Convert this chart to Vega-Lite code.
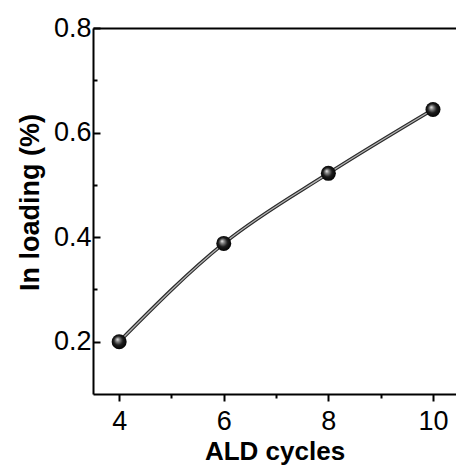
{
  "$schema": "https://vega.github.io/schema/vega-lite/v6.json",
  "width": 363,
  "height": 366,
  "autosize": {"type": "none"},
  "padding": {"left": 93, "top": 28, "right": 0, "bottom": 74},
  "background": "white",
  "config": {
    "view": {"stroke": null},
    "font": "Liberation Sans",
    "axis": {
      "grid": false,
      "domainColor": "black",
      "domainWidth": 2,
      "tickColor": "black",
      "tickWidth": 2,
      "labelFont": "Liberation Sans",
      "labelFontSize": 27,
      "labelColor": "black",
      "titleFont": "Liberation Sans",
      "titleFontSize": 27,
      "titleFontWeight": "bold",
      "titleColor": "black"
    }
  },
  "data": {
    "values": [
      {"cycles": 4, "loading": 0.2},
      {"cycles": 6, "loading": 0.388},
      {"cycles": 8, "loading": 0.522},
      {"cycles": 10, "loading": 0.644}
    ]
  },
  "encoding": {
    "y": {
      "field": "loading",
      "type": "quantitative",
      "scale": {"domain": [0.1, 0.8], "nice": false, "zero": false},
      "axis": {
        "values": [0.2, 0.3, 0.4, 0.5, 0.6, 0.7, 0.8],
        "labelExpr": "round(datum.value * 10) % 2 == 0 ? format(datum.value, '.1f') : ''",
        "tickSize": {"condition": {"test": "round(datum.value * 10) % 2 == 0", "value": -7}, "value": -4},
        "labelPadding": 9,
        "title": "In loading (%)",
        "titleAngle": 270,
        "titleAlign": "center",
        "titleBaseline": "middle",
        "titleX": -63,
        "titleY": 174
      }
    }
  },
  "resolve": {"axis": {"x": "independent"}},
  "layer": [
    {
      "mark": {"type": "line", "interpolate": "monotone", "color": "#2a2a2a", "strokeWidth": 3.6},
      "encoding": {
        "x": {
          "field": "cycles",
          "type": "quantitative",
          "scale": {"domain": [3.5, 10.44], "nice": false, "zero": false},
          "axis": {
            "orient": "bottom",
            "values": [4, 5, 6, 7, 8, 9, 10],
            "labelExpr": "datum.value % 2 == 0 ? format(datum.value, 'd') : ''",
            "tickSize": {"condition": {"test": "datum.value % 2 == 0", "value": 7}, "value": 4},
            "labelPadding": 7,
            "title": "ALD cycles",
            "titleFontSize": 26,
            "titleBaseline": "alphabetic",
            "titleY": 65
          }
        }
      }
    },
    {
      "mark": {"type": "line", "interpolate": "monotone", "color": "#b4b4b4", "strokeWidth": 1.3},
      "encoding": {
        "x": {
          "field": "cycles",
          "type": "quantitative",
          "scale": {"domain": [3.5, 10.44], "nice": false, "zero": false},
          "axis": {
            "orient": "top",
            "ticks": false,
            "labels": false,
            "title": null,
            "domain": true
          }
        }
      }
    },
    {
      "mark": {
        "type": "point",
        "shape": "circle",
        "filled": true,
        "size": 225,
        "opacity": 1,
        "fill": {
          "gradient": "radial",
          "x1": 0.38, "y1": 0.34, "r1": 0,
          "x2": 0.5, "y2": 0.5, "r2": 0.55,
          "stops": [
            {"offset": 0, "color": "#f2f2f2"},
            {"offset": 0.22, "color": "#8a8a8a"},
            {"offset": 0.55, "color": "#1c1c1c"},
            {"offset": 1, "color": "#000000"}
          ]
        }
      },
      "encoding": {
        "x": {
          "field": "cycles",
          "type": "quantitative",
          "scale": {"domain": [3.5, 10.44], "nice": false, "zero": false},
          "axis": null
        }
      }
    }
  ]
}
